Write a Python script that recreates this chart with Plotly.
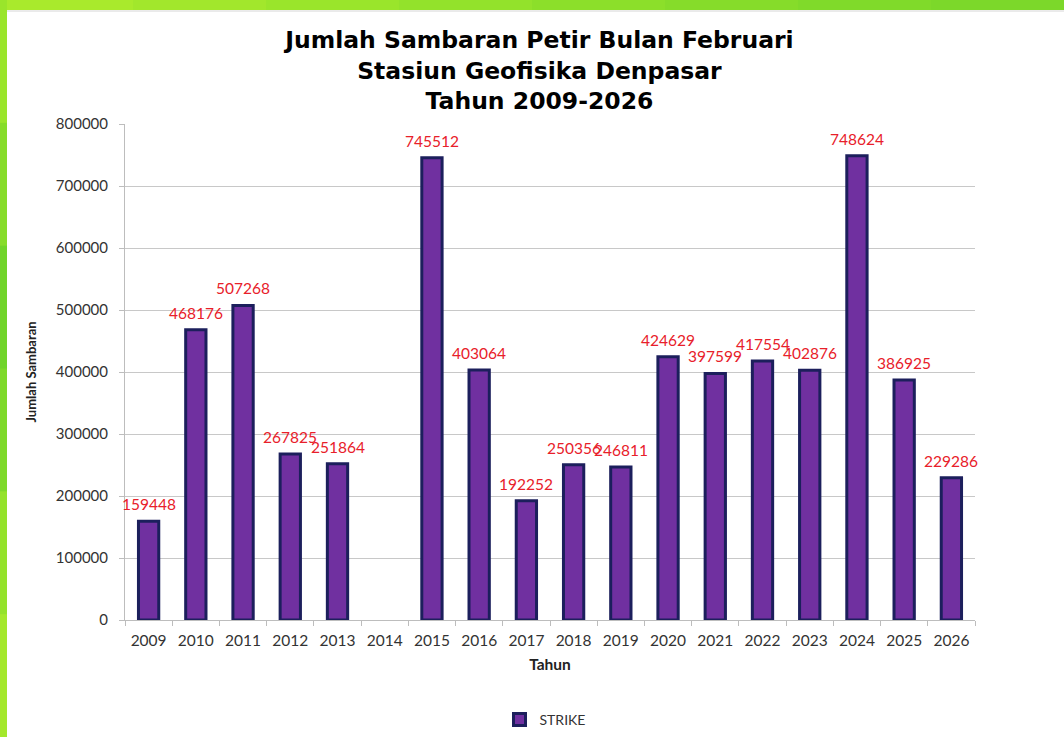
import plotly.graph_objects as go

# data
years = ['2009', '2010', '2011', '2012', '2013', '2014', '2015', '2016', '2017',
         '2018', '2019', '2020', '2021', '2022', '2023', '2024', '2025', '2026']
strikes = [159448, 468176, 507268, 267825, 251864, None, 745512, 403064, 192252,
           250356, 246811, 424629, 397599, 417554, 402876, 748624, 386925, 229286]
y_ticks = [0, 100000, 200000, 300000, 400000, 500000, 600000, 700000, 800000]

W, H = 1064, 737
ml, mr, mt, mb = 125, 89, 124, 117
pw, ph = W - ml - mr, H - mt - mb

def px(x):
    return (x - ml) / pw

def py(y):
    return (H - mb - y) / ph

bar = go.Bar(x=years, y=strikes, name='STRIKE',
             marker=dict(color='#7030A0', line=dict(color='#1c1f5c', width=3)))

fig = go.Figure(data=[bar])

# value labels above the bars (2014 has no value)
# category axis: annotation x is the category index
for i, v in enumerate(strikes):
    if v is None:
        continue
    fig.add_annotation(x=i, y=v, xref='x', yref='y', text=str(v), showarrow=False,
                       yanchor='bottom', yshift=6,
                       font=dict(family='Lato', size=15.5, color='#e8202a'))

# green frame of the slide
shapes = []
top_cols = ['#a9ea2c', '#a2e72c', '#9ae52b', '#93e22b', '#8cdf2a', '#86dc2a', '#80da2a', '#7cd82a']
seg = W / len(top_cols)
for i, c in enumerate(top_cols):
    shapes.append(dict(type='rect', xref='paper', yref='paper', layer='above',
                       x0=px(i * seg), x1=px((i + 1) * seg + 1), y0=py(10), y1=py(0),
                       fillcolor=c, line=dict(width=0)))
left_cols = ['#9ae52b', '#86dc2a', '#70d42a', '#7ed92a', '#94e22b', '#a4e82c']
seg = H / len(left_cols)
for i, c in enumerate(left_cols):
    shapes.append(dict(type='rect', xref='paper', yref='paper', layer='above',
                       x0=px(0), x1=px(7), y0=py((i + 1) * seg + 1), y1=py(i * seg),
                       fillcolor=c, line=dict(width=0)))
shapes.append(dict(type='line', xref='paper', yref='paper', x0=px(7), x1=px(W),
                   y0=py(11), y1=py(11), line=dict(color='#d6d6d6', width=1)))

fig.update_layout(
    width=W, height=H,
    margin=dict(l=ml, r=mr, t=mt, b=mb),
    paper_bgcolor='white', plot_bgcolor='white',
    title=dict(text='<b>Jumlah Sambaran Petir Bulan Februari<br>Stasiun Geofisika Denpasar<br>Tahun 2009-2026</b>',
               x=0.507, xanchor='center', xref='container',
               y=1 - 48 / H, yanchor='top', yref='container',
               font=dict(family='DejaVu Sans', size=23.5, color='black')),
    font=dict(family='Lato', size=14, color='#333333'),
    bargap=0.57,
    showlegend=True,
    legend=dict(orientation='h', x=545 / W, xanchor='center', xref='container',
                y=1 - 720 / H, yanchor='middle', yref='container',
                font=dict(family='Lato', size=14, color='#333333'),
                itemwidth=30),
    xaxis=dict(type='category', categoryorder='array', categoryarray=years,
               range=[-0.5, len(years) - 0.5],
               showgrid=False, showline=True, linecolor='#bdbdbd',
               ticks='outside', tickson='boundaries', ticklen=5, tickcolor='#bdbdbd',
               ticklabelstandoff=6, tickangle=0,
               tickfont=dict(family='Lato', size=15.5, color='#333333'),
               title=dict(text='<b>Tahun</b>', standoff=11,
                          font=dict(family='Lato', size=15.5, color='#222222'))),
    yaxis=dict(range=[0, 800000], tickvals=y_ticks, tickformat='d',
               showgrid=True, gridcolor='#c8c8c8', zeroline=False,
               showline=True, linecolor='#bdbdbd',
               ticks='outside', ticklen=5, tickcolor='#bdbdbd',
               ticklabelstandoff=8,
               tickfont=dict(family='Lato', size=15, color='#333333'),
               title=dict(text='<b>Jumlah Sambaran</b>', standoff=16,
                          font=dict(family='Lato', size=13, color='#222222'))),
    shapes=shapes,
)

# no body margin so the figure sits at the window corner
fig.write_html("out.html", config={'displayModeBar': False},
               post_script="document.body.style.margin='0';")
